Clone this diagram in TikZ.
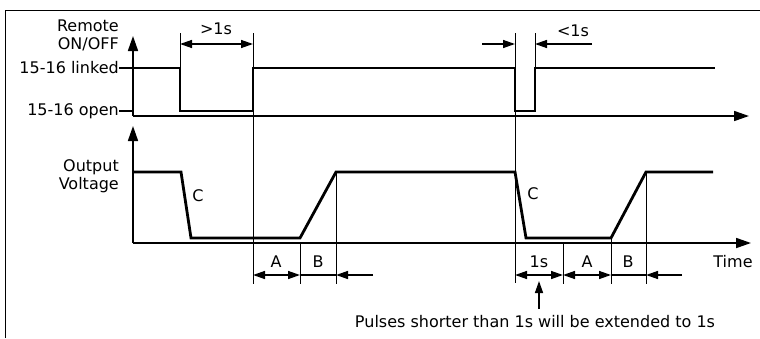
\documentclass[tikz,border=0pt]{standalone}
\usepackage{fontspec}
\setmainfont{DejaVu Sans}
\usetikzlibrary{arrows.meta}
\begin{document}
\begin{tikzpicture}[x=1pt, y=-1pt,
    lbl/.style={font=\fontsize{16}{18}\selectfont, inner sep=0pt},
    axis/.style={draw, line width=1.7pt, -{Triangle[length=15pt,width=10pt]}},
    wave/.style={draw, line width=2.8pt, line join=miter},
    guide/.style={draw, line width=0.9pt},
    dim/.style={draw, line width=1.4pt, {Triangle[length=12pt,width=8pt]}-{Triangle[length=12pt,width=8pt]}},
    ptr/.style={draw, line width=1.4pt, -{Triangle[length=12pt,width=8pt]}}
]
    \useasboundingbox (0,0) rectangle (760,338);
    \draw [line width=1pt] (5,338) -- (5,10) -- (760,10);

    % upper plot: remote on/off
    \coordinate (o1) at (133,116);
    \coordinate (y1) at (133,36);
    \coordinate (x1) at (749,116);
    \draw [axis] (o1) -- (y1);
    \draw [axis] (o1) -- (x1);
    \node [lbl, anchor=east, align=right] (remote) at (119,35) {Remote\\ON/OFF};
    \node [lbl, anchor=east] (linked) at (119,68) {15-16 linked};
    \node [lbl, anchor=east] (open) at (119,111) {15-16 open};
    \draw [line width=1.2pt] (linked.east) -- (133,68);
    \draw [line width=1.2pt] (open.east) -- (133,111);
    \draw [wave] (133,68) -- (180,68) -- (180,111) -- (253,111) -- (253,68)
        -- (515,68) -- (515,111) -- (535,111) -- (535,68) -- (715,68);

    % lower plot: output voltage
    \coordinate (o2) at (133,243);
    \coordinate (y2) at (133,126);
    \coordinate (x2) at (751,243);
    \draw [axis] (o2) -- (y2);
    \draw [axis] (o2) -- (x2);
    \node [lbl, anchor=east, align=right] (vout) at (119,176) {Output\\Voltage};
    \draw [wave] (133,172) -- (181,172) -- (191,238) -- (300,238) -- (336,172)
        -- (515,172) -- (526,238) -- (611,238) -- (646,172) -- (713,172);
    \node [lbl] (c1) at (198,196) {C};
    \node [lbl] (c2) at (533,194) {C};
    \node [lbl] (time) at (733,262) {Time};

    % guide lines
    \draw [guide] (180,33) -- (180,68);
    \draw [guide] (253,33) -- (253,284);
    \draw [guide] (515,33) -- (515,283);
    \draw [guide] (535,33) -- (535,68);
    \draw [guide] (300,243) -- (300,284);
    \draw [guide] (336,172) -- (336,284);
    \draw [guide] (563,243) -- (563,284);
    \draw [guide] (611,238) -- (611,284);
    \draw [guide] (646,172) -- (646,284);

    % pulse widths
    \coordinate (p1) at (180,44);
    \coordinate (p2) at (253,44);
    \draw [dim] (p1) -- (p2);
    \node [lbl] (long) at (216,29) {>1s};
    \coordinate (q0) at (482,44);
    \coordinate (q1) at (515,44);
    \coordinate (q2) at (535,44);
    \coordinate (q3) at (592,44);
    \draw [ptr] (q0) -- (q1);
    \draw [ptr] (q3) -- (q2);
    \node [lbl] (short) at (573,31) {<1s};

    % timing intervals
    \foreach \n/\x in {a/253,b/300,c/336,d/373,e/515,f/563,g/611,h/646,i/682}
        \coordinate (d\n) at (\x,275);
    \draw [dim] (da) -- (db);
    \draw [line width=1.4pt] (db) -- (dc);
    \draw [ptr] (dd) -- (dc);
    \draw [dim] (de) -- (df);
    \draw [dim] (df) -- (dg);
    \draw [line width=1.4pt] (dg) -- (dh);
    \draw [ptr] (di) -- (dh);
    \node [lbl] (a1) at (276,262) {A};
    \node [lbl] (b1) at (318,262) {B};
    \node [lbl] (one) at (539,262) {1s};
    \node [lbl] (a2) at (587,262) {A};
    \node [lbl] (b2) at (628,262) {B};

    \node [lbl] (note) at (535,322) {Pulses shorter than 1s will be extended to 1s};
    \coordinate (n0) at (539,309);
    \coordinate (n1) at (539,281);
    \draw [ptr] (n0) -- (n1);
\end{tikzpicture}
\end{document}
